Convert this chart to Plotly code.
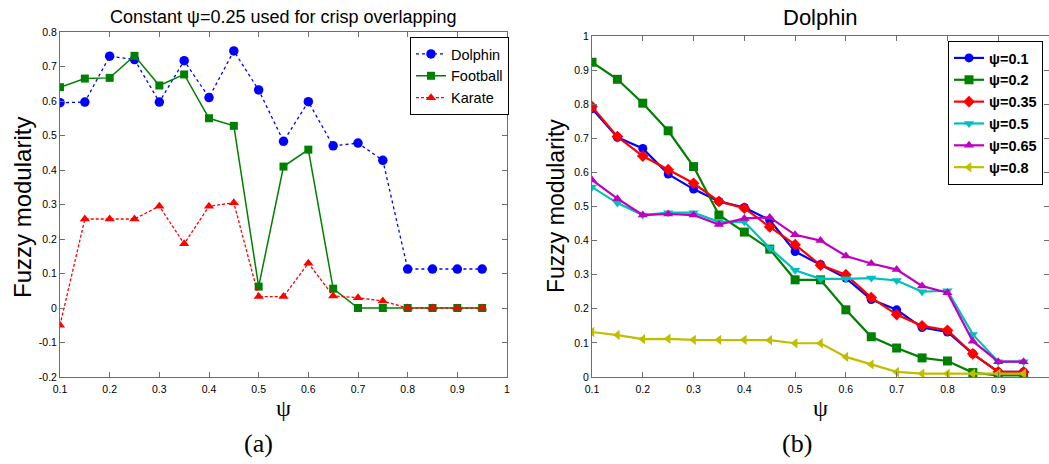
import plotly.graph_objects as go

psi = [0.1, 0.15, 0.2, 0.25, 0.3, 0.35, 0.4, 0.45, 0.5, 0.55, 0.6, 0.65, 0.7, 0.75, 0.8, 0.85, 0.9, 0.95]

# Panel (a)
dolphin = [0.595, 0.597, 0.730, 0.720, 0.597, 0.717, 0.610, 0.745, 0.632, 0.483, 0.598, 0.470, 0.478, 0.428, 0.113, 0.113, 0.113, 0.113]
football = [0.640, 0.665, 0.667, 0.731, 0.645, 0.677, 0.550, 0.528, 0.062, 0.410, 0.459, 0.056, 0.0, 0.0, 0.0, 0.0, 0.0, 0.0]
karate = [-0.050, 0.258, 0.258, 0.258, 0.295, 0.186, 0.295, 0.305, 0.033, 0.033, 0.130, 0.035, 0.030, 0.020, 0.0, 0.0, 0.0, 0.0]

# Panel (b)
b_names = ["ψ=0.1", "ψ=0.2", "ψ=0.35", "ψ=0.5", "ψ=0.65", "ψ=0.8"]
b_01 = [0.787, 0.703, 0.670, 0.595, 0.551, 0.515, 0.497, 0.460, 0.368, 0.330, 0.290, 0.227, 0.197, 0.145, 0.132, 0.068, 0.015, 0.015]
b_02 = [0.923, 0.873, 0.803, 0.722, 0.617, 0.475, 0.425, 0.375, 0.285, 0.285, 0.197, 0.118, 0.085, 0.056, 0.047, 0.013, 0.005, 0.005]
b_035 = [0.793, 0.705, 0.648, 0.608, 0.568, 0.515, 0.495, 0.440, 0.388, 0.328, 0.300, 0.233, 0.183, 0.150, 0.137, 0.068, 0.015, 0.015]
b_05 = [0.557, 0.510, 0.475, 0.482, 0.482, 0.455, 0.455, 0.378, 0.313, 0.288, 0.288, 0.290, 0.283, 0.250, 0.253, 0.125, 0.045, 0.045]
b_065 = [0.578, 0.523, 0.475, 0.478, 0.475, 0.447, 0.465, 0.468, 0.417, 0.400, 0.355, 0.333, 0.315, 0.267, 0.247, 0.105, 0.045, 0.045]
b_08 = [0.132, 0.123, 0.111, 0.112, 0.109, 0.109, 0.109, 0.108, 0.099, 0.099, 0.059, 0.037, 0.015, 0.010, 0.010, 0.010, 0.010, 0.010]

xa_ticks = [0.1, 0.2, 0.3, 0.4, 0.5, 0.6, 0.7, 0.8, 0.9, 1.0]
xa_text = ["0.1", "0.2", "0.3", "0.4", "0.5", "0.6", "0.7", "0.8", "0.9", "1"]
ya_ticks = [-0.2, -0.1, 0.0, 0.1, 0.2, 0.3, 0.4, 0.5, 0.6, 0.7, 0.8]
ya_text = ["-0.2", "-0.1", "0", "0.1", "0.2", "0.3", "0.4", "0.5", "0.6", "0.7", "0.8"]
yb_ticks = [0.0, 0.1, 0.2, 0.3, 0.4, 0.5, 0.6, 0.7, 0.8, 0.9, 1.0]
yb_text = ["0", "0.1", "0.2", "0.3", "0.4", "0.5", "0.6", "0.7", "0.8", "0.9", "1"]

SANS = "Liberation Sans, Arial, sans-serif"
SERIF = "Liberation Serif, Times New Roman, serif"
W, H = 1049, 464

fig = go.Figure()

# Panel (a) traces
fig.add_trace(go.Scatter(x=psi, y=dolphin, name="Dolphin", mode="lines+markers",
                         line=dict(color="#0000ff", width=1.3, dash="dot"),
                         marker=dict(symbol="circle", size=9.5, color="#0000ff"),
                         xaxis="x", yaxis="y", legend="legend"))
fig.add_trace(go.Scatter(x=psi, y=football, name="Football", mode="lines+markers",
                         line=dict(color="#008000", width=1.5),
                         marker=dict(symbol="square", size=8, color="#008000"),
                         xaxis="x", yaxis="y", legend="legend"))
fig.add_trace(go.Scatter(x=psi, y=karate, name="Karate", mode="lines+markers",
                         line=dict(color="#ff0000", width=1.3, dash="3px,2px"),
                         marker=dict(symbol="triangle-up", size=9, color="#ff0000"),
                         xaxis="x", yaxis="y", legend="legend"))

# Panel (b) traces
b_series = [b_01, b_02, b_035, b_05, b_065, b_08]
b_colors = ["#0000ff", "#008000", "#ff0000", "#00bfbf", "#bf00bf", "#bfbf00"]
b_symbols = ["circle", "square", "diamond", "triangle-down", "triangle-up", "triangle-left"]
for name, ys, col, sym in zip(b_names, b_series, b_colors, b_symbols):
    fig.add_trace(go.Scatter(x=psi, y=ys, name=name, mode="lines+markers",
                             line=dict(color=col, width=2.2),
                             marker=dict(symbol=sym, size=9, color=col),
                             xaxis="x2", yaxis="y2", legend="legend2"))

axis_common = dict(showline=True, linecolor="#6e6e6e", linewidth=1, mirror="ticks",
                   ticks="inside", ticklen=5, tickcolor="#6e6e6e", showgrid=False,
                   zeroline=False, automargin=False,
                   tickfont=dict(family=SANS, size=10.5, color="#000"))

def px(x, y):
    return x / W, 1 - y / H

ann_specs = [
    ("Constant ψ=0.25 used for crisp overlapping", 283, 17, SANS, 18, 0),
    ("Dolphin", 820, 17, SANS, 22, 0),
    ("Fuzzy modularity", 22, 208, SANS, 24, -90),
    ("Fuzzy modularity", 556, 206, SANS, 23, -90),
    ("ψ", 283, 408, SERIF, 24, 0),
    ("ψ", 820, 408, SERIF, 24, 0),
    ("(a)", 258, 443, SERIF, 26, 0),
    ("(b)", 797, 443, SERIF, 26, 0),
]
annotations = []
for text, ax_, ay_, fam, size, ang in ann_specs:
    xx, yy = px(ax_, ay_)
    annotations.append(dict(text=text, x=xx, y=yy, xref="paper", yref="paper",
                            xanchor="center", yanchor="middle", textangle=ang,
                            showarrow=False, font=dict(family=fam, size=size, color="#000")))

fig.update_layout(
    width=W, height=H,
    margin=dict(l=0, r=0, t=0, b=0, autoexpand=False),
    paper_bgcolor="white", plot_bgcolor="white",
    showlegend=True,
    xaxis=dict(domain=[60/W, 507/W], range=[0.1, 1.0], tickvals=xa_ticks, ticktext=xa_text,
               anchor="y", ticklabelstandoff=2, **axis_common),
    yaxis=dict(domain=[87/H, 432/H], range=[-0.2, 0.8], tickvals=ya_ticks, ticktext=ya_text,
               anchor="x", **axis_common),
    xaxis2=dict(domain=[592/W, 1.0], range=[0.1, 1.0], tickvals=xa_ticks, ticktext=xa_text,
                anchor="y2", ticklabelstandoff=2, **axis_common),
    yaxis2=dict(domain=[87/H, 428/H], range=[0.0, 1.0], tickvals=yb_ticks, ticktext=yb_text,
                anchor="x2", **axis_common),
    legend=dict(x=509/W, y=1 - 37/H, xanchor="right", yanchor="top",
                bordercolor="#000", borderwidth=1, bgcolor="white",
                font=dict(family=SANS, size=14.5, color="#000"), tracegroupgap=0,
                itemwidth=30),
    legend2=dict(x=1043/W, y=1 - 41/H, xanchor="right", yanchor="top",
                 bordercolor="#000", borderwidth=1, bgcolor="white",
                 font=dict(family=SANS, size=14.5, color="#000", weight="bold"), tracegroupgap=0,
                 itemwidth=30),
    annotations=annotations,
)

fig.write_html("out.html", config={"displayModeBar": False},
               post_script="document.documentElement.style.overflow='hidden';"
                           "document.body.style.margin='0';document.body.style.overflow='hidden';")
